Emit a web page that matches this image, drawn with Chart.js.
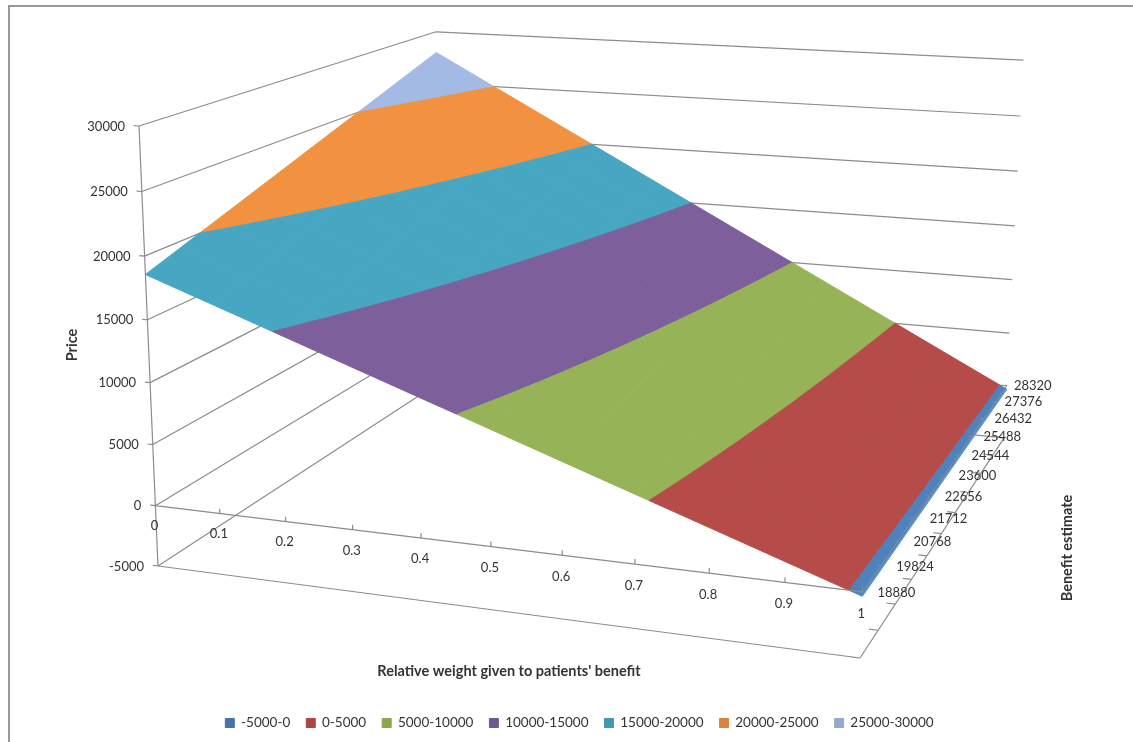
<!DOCTYPE html>
<html>
<head>
<meta charset="utf-8">
<title>Price surface</title>
<script src="https://cdn.jsdelivr.net/npm/chart.js@4"></script>
<style>
  html, body { margin: 0; padding: 0; background: #fff; }
  canvas { display: block; }
</style>
</head>
<body>
<canvas id="surface" width="1133" height="742"></canvas>
<script>
// ===================== Data =====================
const weights = [0, 0.1, 0.2, 0.3, 0.4, 0.5, 0.6, 0.7, 0.8, 0.9, 1];
const benefits = [18880, 19824, 20768, 21712, 22656, 23600, 24544, 25488, 26432, 27376, 28320];
const priceTicks = [-5000, 0, 5000, 10000, 15000, 20000, 25000, 30000];
const bandNames = ['-5000-0', '0-5000', '5000-10000', '10000-15000', '15000-20000', '20000-25000', '25000-30000'];

// one row of prices per benefit estimate, left to right along weights
const prices18880 = [18560, 16672, 14784, 12896, 11008, 9120, 7232, 5344, 3456, 1568, -320];
const prices19824 = [19504, 17522, 15539, 13557, 11574, 9592, 7610, 5627, 3645, 1662, -320];
const prices20768 = [20448, 18371, 16294, 14218, 12141, 10064, 7987, 5910, 3834, 1757, -320];
const prices21712 = [21392, 19221, 17050, 14878, 12707, 10536, 8365, 6194, 4022, 1851, -320];
const prices22656 = [22336, 20070, 17805, 15539, 13274, 11008, 8742, 6477, 4211, 1946, -320];
const prices23600 = [23280, 20920, 18560, 16200, 13840, 11480, 9120, 6760, 4400, 2040, -320];
const prices24544 = [24224, 21770, 19315, 16861, 14406, 11952, 9498, 7043, 4589, 2134, -320];
const prices25488 = [25168, 22619, 20070, 17522, 14973, 12424, 9875, 7326, 4778, 2229, -320];
const prices26432 = [26112, 23469, 20826, 18182, 15539, 12896, 10253, 7610, 4966, 2323, -320];
const prices27376 = [27056, 24318, 21581, 18843, 16106, 13368, 10630, 7893, 5155, 2418, -320];
const prices28320 = [28000, 25168, 22336, 19504, 16672, 13840, 11008, 8176, 5344, 2512, -320];
const priceRows = [prices18880, prices19824, prices20768, prices21712, prices22656, prices23600,
  prices24544, prices25488, prices26432, prices27376, prices28320];

// ===================== Styles =====================
const bandFills = ['#4f81bd', '#b64c4a', '#97b357', '#7d5f9b', '#47a6c1', '#f29241', '#a3bbe4'];
const legendFills = ['#4674aa', '#aa4644', '#8aa64f', '#71588f', '#4198af', '#db843d', '#93a9cf'];
const gridColor = '#8c8c8c';
const textColor = '#333333';
const labelFont = '13px Lato';
const titleFont = 'bold 14.5px Lato';

// ===================== Perspective view of the value box =====================
// Screen positions of the box corners and the perspective weight of each edge.
const origin = { x: 158, y: 566 };      // weight 0, first benefit, price -5000
const weightEnd = { x: 860, y: 658 };
const benefitEnd = { x: 440, y: 382 };
const priceEnd = { x: 139, y: 126 };
const gWeight = 0.904;
const gBenefit = 1.269;
const gPrice = 0.953;

function project(u, v, price) {
  const t = (price + 5000) / 35000;
  const d = 1 + u * (gWeight - 1) + v * (gBenefit - 1) + t * (gPrice - 1);
  const axis = function (key) {
    return origin[key]
      + u * (gWeight * weightEnd[key] - origin[key])
      + v * (gBenefit * benefitEnd[key] - origin[key])
      + t * (gPrice * priceEnd[key] - origin[key]);
  };
  return { x: axis('x') / d, y: axis('y') / d };
}

const uOf = function (i) { return i / (weights.length - 1); };
const vOf = function (j) { return j / (benefits.length - 1); };

// ===================== Surface bands =====================
// Sutherland-Hodgman clip of a cell against one price limit
function clipPrice(poly, limit, keepAbove) {
  const out = [];
  const inside = function (p) { return keepAbove ? p.price >= limit : p.price <= limit; };
  poly.forEach(function (a, k) {
    const b = poly[(k + 1) % poly.length];
    if (inside(a)) out.push(a);
    if (inside(a) !== inside(b)) {
      const s = (limit - a.price) / (b.price - a.price);
      out.push({ u: a.u + s * (b.u - a.u), v: a.v + s * (b.v - a.v), price: limit });
    }
  });
  return out;
}

function surfaceDatasets() {
  const sets = [];
  bandFills.forEach(function (fill, band) {
    const lo = priceTicks[band];
    const hi = priceTicks[band + 1];
    for (let j = 0; j < benefits.length - 1; j++) {
      for (let i = 0; i < weights.length - 1; i++) {
        const cell = [
          { u: uOf(i), v: vOf(j), price: priceRows[j][i] },
          { u: uOf(i + 1), v: vOf(j), price: priceRows[j][i + 1] },
          { u: uOf(i + 1), v: vOf(j + 1), price: priceRows[j + 1][i + 1] },
          { u: uOf(i), v: vOf(j + 1), price: priceRows[j + 1][i] }
        ];
        const poly = clipPrice(clipPrice(cell, lo, true), hi, false);
        if (poly.length < 3) continue;
        const pts = poly.map(function (p) { return project(p.u, p.v, p.price); });
        pts.push(pts[0]);
        sets.push({
          data: pts,
          showLine: true,
          fill: 'shape',
          backgroundColor: fill,
          borderColor: fill,
          borderWidth: 1,
          pointRadius: 0,
          order: 2,
          clip: false
        });
      }
    }
  });
  return sets;
}

// ===================== Walls and axes =====================
function lineSet(segments, color, width, order) {
  const data = [];
  segments.forEach(function (seg) {
    data.push(seg[0], seg[1], { x: NaN, y: NaN });
  });
  return { data: data, showLine: true, fill: false, borderColor: color, borderWidth: width,
    pointRadius: 0, spanGaps: false, order: order, clip: false };
}

const wallSegments = [];
priceTicks.forEach(function (p) {
  wallSegments.push([project(0, 0, p), project(0, 1, p)]);
  wallSegments.push([project(0, 1, p), project(1, 1, p)]);
});

const axisSegments = [
  [project(0, 0, -5000), project(0, 0, 30000)],
  [project(0, 0, -5000), project(1, 0, -5000)],
  [project(1, 0, -5000), project(1, 1, -5000)],
  [project(0, 0, 0), project(1, 0, 0)]
];
priceTicks.forEach(function (p) {
  axisSegments.push([project(-0.008, 0, p), project(0, 0, p)]);
});
weights.forEach(function (w, i) {
  axisSegments.push([project(uOf(i), 0, 0), project(uOf(i), 0, 400)]);
});
benefits.forEach(function (b, j) {
  axisSegments.push([project(0.988, vOf(j), -5000), project(1, vOf(j), -5000)]);
});

// the axis running over the blue strip stays fainter, with short ticks
const stripSegments = [[project(1, 0, 0), project(1, 1, 0)]];
benefits.forEach(function (b, j) {
  stripSegments.push([project(0.995, vOf(j), 0), project(1, vOf(j), 0)]);
});

const edgeSet = lineSet([[project(1, 0, -320), project(1, 1, -320)]], '#5f9bdc', 1.5, 1);

// ===================== Text and frame =====================
const chartText = {
  id: 'chartText',
  beforeDraw: function (chart) {
    const ctx = chart.ctx;
    ctx.save();
    ctx.strokeStyle = '#999999';
    ctx.lineWidth = 2;
    ctx.beginPath();
    ctx.moveTo(9, 742);
    ctx.lineTo(9, 6);
    ctx.lineTo(1133, 6);
    ctx.stroke();
    ctx.restore();
  },
  afterDatasetsDraw: function (chart) {
    const ctx = chart.ctx;
    const xs = chart.scales.x;
    const ys = chart.scales.y;
    ctx.save();
    ctx.fillStyle = textColor;
    ctx.font = labelFont;
    ctx.textBaseline = 'middle';

    ctx.textAlign = 'right';
    priceTicks.forEach(function (p) {
      const pos = project(0, 0, p);
      ctx.fillText(String(p), xs.getPixelForValue(pos.x) - 14, ys.getPixelForValue(pos.y) + 0.5);
    });

    ctx.textAlign = 'center';
    weights.forEach(function (w, i) {
      const pos = project(uOf(i), 0, 0);
      ctx.fillText(String(w), xs.getPixelForValue(pos.x) - 1, ys.getPixelForValue(pos.y) + 20 + 2 * uOf(i));
    });
    benefits.forEach(function (b, j) {
      const pos = project(1, vOf(j), 0);
      const v = vOf(j);
      ctx.fillText(String(b), xs.getPixelForValue(pos.x) + 34 - 8 * v + 14 * v * (1 - v), ys.getPixelForValue(pos.y) + 1 - v);
    });

    ctx.font = titleFont;
    ctx.fillText("Relative weight given to patients' benefit", 509, 671);
    ctx.translate(72, 345);
    ctx.rotate(-Math.PI / 2);
    ctx.fillText('Price', 0, 0);
    ctx.rotate(Math.PI / 2);
    ctx.translate(-72, -345);
    ctx.translate(1067, 548);
    ctx.rotate(-Math.PI / 2);
    ctx.fillText('Benefit estimate', 0, 0);
    ctx.restore();
  }
};

// ===================== Chart =====================
new Chart(document.getElementById('surface'), {
  type: 'scatter',
  data: {
    datasets: surfaceDatasets().concat([
      lineSet(wallSegments, gridColor, 1.2, 3),
      lineSet(axisSegments, gridColor, 1.2, 0),
      lineSet(stripSegments, gridColor, 1, 0),
      edgeSet
    ])
  },
  options: {
    responsive: false,
    animation: false,
    layout: { autoPadding: false, padding: { left: 26, bottom: 2.25 } },
    scales: {
      x: { type: 'linear', display: false, min: 26, max: 1133 },
      y: { type: 'linear', display: false, min: 0, max: 700.25, reverse: true }
    },
    plugins: {
      tooltip: { enabled: false },
      legend: {
        position: 'bottom',
        labels: {
          boxWidth: 9,
          boxHeight: 9,
          padding: 16,
          color: textColor,
          font: { family: 'Lato', size: 13.5 },
          generateLabels: function () {
            return bandNames.map(function (name, k) {
              return { text: name, fillStyle: legendFills[k], strokeStyle: legendFills[k], lineWidth: 1, fontColor: textColor };
            });
          }
        }
      }
    }
  },
  plugins: [chartText]
});
</script>
</body>
</html>
